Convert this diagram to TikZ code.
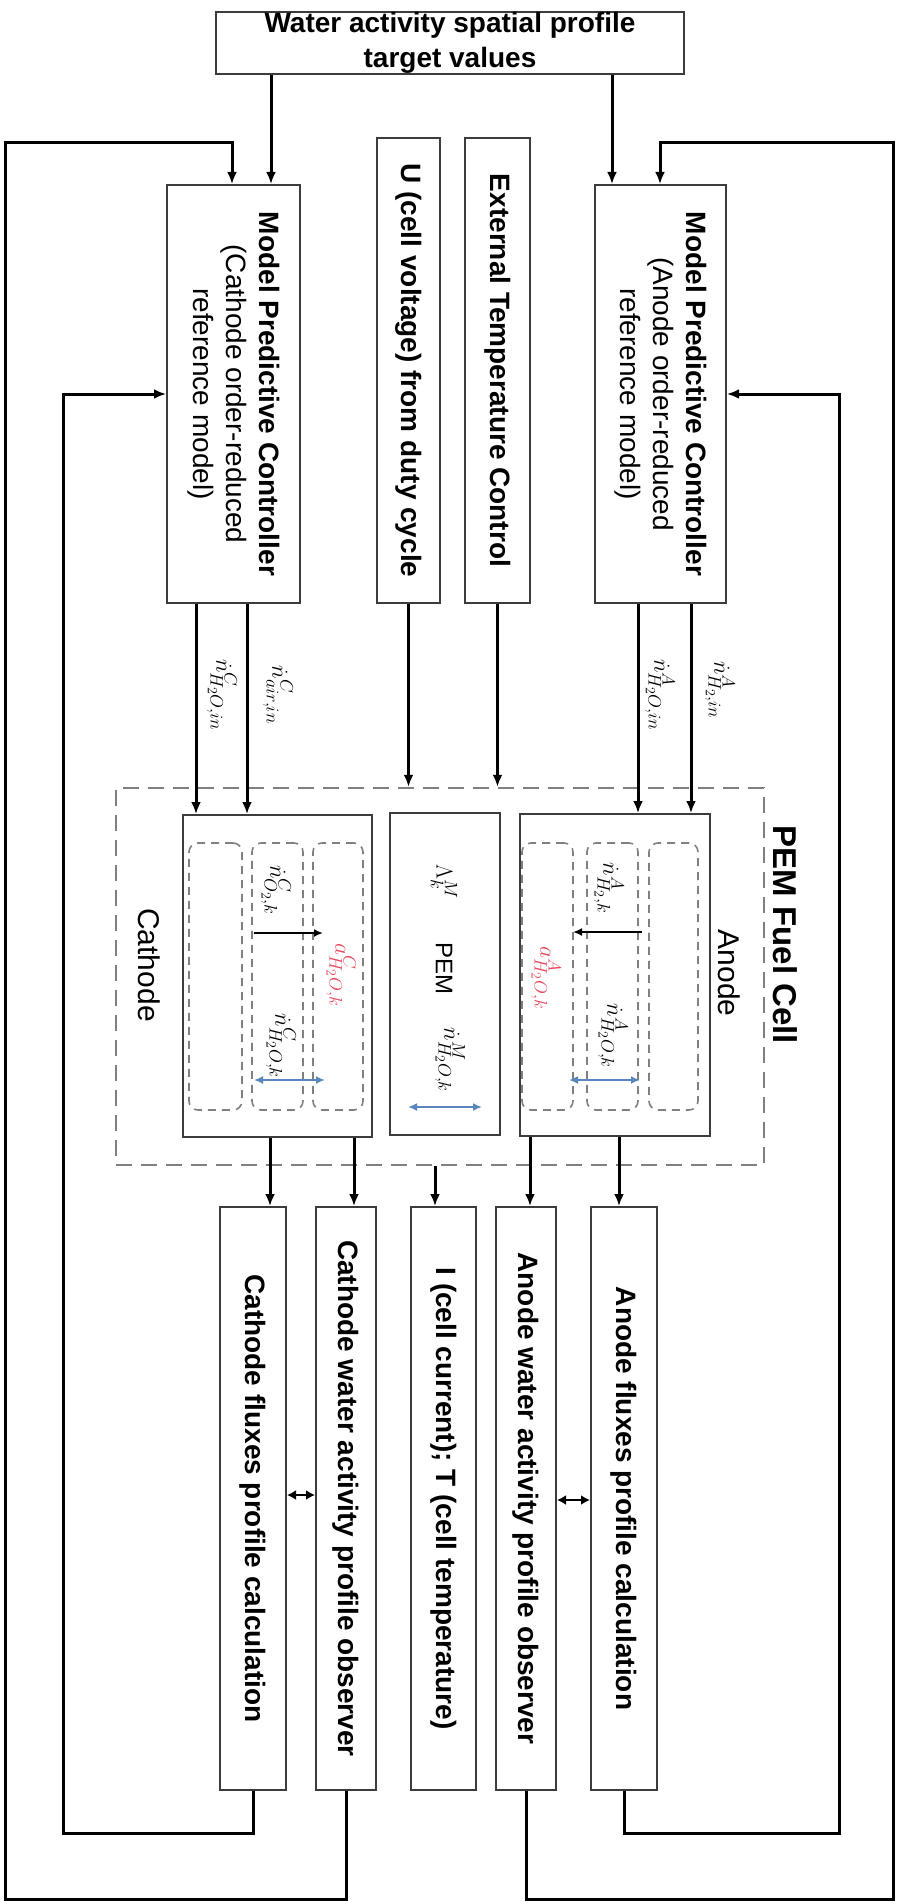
\RequirePackage{fix-cm}
\documentclass[tikz,border=0pt]{standalone}
\usepackage{fontspec}
\setmainfont{Liberation Sans}
\usetikzlibrary{arrows.meta}
\DeclareMathSizes{23}{23}{18}{14}
\definecolor{boxgray}{HTML}{3C3C3C}
\definecolor{dashgray}{HTML}{808080}
\definecolor{flowblue}{HTML}{5A86C0}
\definecolor{actred}{HTML}{E5485E}
\begin{document}
\begin{tikzpicture}[x=1pt,y=-1pt,
 blk/.style={draw=boxgray,line width=2pt,fill=white,inner sep=0pt},
 vt/.style={rotate=-90,align=center,inner sep=0pt,font=\fontsize{28}{33}\selectfont},
 vtb/.style={rotate=-90,align=center,inner sep=0pt,font=\fontsize{28}{33}\selectfont\bfseries},
 conn/.style={line width=3pt,-{Latex[length=12pt,width=10pt]}},
 fcbox/.style={draw=dashgray,line width=2.5pt,dash pattern=on 16pt off 9pt,inner sep=0pt},
 comp/.style={draw=dashgray,line width=1.6pt,dash pattern=on 8pt off 6pt,rounded corners=9pt,inner sep=0pt},
 lbl/.style={rotate=-90,inner sep=0pt,font=\fontsize{23}{27}\selectfont},
 bflow/.style={draw=flowblue,line width=2.2pt,{Latex[length=9pt,width=8pt]}-{Latex[length=9pt,width=8pt]}},
 kflow/.style={line width=2.2pt,-{Latex[length=9pt,width=8pt]}},
 bid/.style={line width=2.5pt,{Latex[length=9pt,width=10pt]}-{Latex[length=9pt,width=10pt]}}
]
\useasboundingbox (0,0) rectangle (899,1902);
\fill[white] (0,0) rectangle (899,1902);

% coordinates
\coordinate (xTC) at (271,0); \coordinate (xTA) at (612,0);
\coordinate (xFC) at (232,0); \coordinate (xFA) at (660,0);
\coordinate (xOL) at (5,0);   \coordinate (xOR) at (893,0);
\coordinate (xIL) at (63,0);  \coordinate (xIR) at (839,0);
\coordinate (yOT) at (0,143); \coordinate (yOB) at (0,1899);
\coordinate (yIB) at (0,1833);
\coordinate (xc1) at (196,0); \coordinate (xc2) at (247,0);
\coordinate (xa1) at (638,0); \coordinate (xa2) at (691,0);
\coordinate (xo1) at (270,0); \coordinate (xo2) at (354,0);
\coordinate (xo3) at (435,0); \coordinate (xo4) at (530,0);
\coordinate (xo5) at (619,0);
\coordinate (yb1) at (0,1495); \coordinate (yb2) at (0,1500);

% top box
\node[blk,align=center,font=\fontsize{28}{35}\selectfont\bfseries,minimum width=468pt,minimum height=62pt] (topbox) at (450,43) {Water activity spatial profile\\target values};

% controllers
\node[blk,minimum width=133pt,minimum height=418pt] (mpcC) at (233.5,394) {};
\node[vt] (mpcCt) at (mpcC.center) {\textbf{Model Predictive Controller}\\(Cathode order-reduced\\reference model)};
\node[blk,minimum width=63pt,minimum height=465pt] (ubox) at (408.5,370.5) {};
\node[vtb] (uboxt) at (ubox.center) {U (cell voltage) from duty cycle};
\node[blk,minimum width=65pt,minimum height=465pt] (ext) at (497.5,370.5) {};
\node[vtb] (extt) at (ext.center) {External Temperature Control};
\node[blk,minimum width=131pt,minimum height=418pt] (mpcA) at (660.5,394) {};
\node[vt] (mpcAt) at (mpcA.center) {\textbf{Model Predictive Controller}\\(Anode order-reduced\\reference model)};

% fuel cell
\node[fcbox,minimum width=648pt,minimum height=377pt] (fc) at (440,976.5) {};
\node[rotate=-90,inner sep=0pt,font=\fontsize{33}{37}\selectfont\bfseries] (fct) at (785,935) {PEM Fuel Cell};
\node[blk,minimum width=189pt,minimum height=322pt] (cath) at (277.5,976) {};
\node[blk,minimum width=110pt,minimum height=322pt] (pem) at (445,974) {};
\node[blk,minimum width=190pt,minimum height=322pt] (anode) at (615,975) {};
\node[rotate=-90,inner sep=0pt,font=\fontsize{30}{34}\selectfont] (catht) at (149,965) {Cathode};
\node[rotate=-90,inner sep=0pt,font=\fontsize{30}{34}\selectfont] (anodet) at (729,973) {Anode};

\node[comp,minimum width=53pt,minimum height=267pt] (c1) at (215.5,976.5) {};
\node[comp,minimum width=51pt,minimum height=267pt] (c2) at (277.5,976.5) {};
\node[comp,minimum width=50pt,minimum height=267pt] (c3) at (338,976.5) {};
\node[comp,minimum width=51pt,minimum height=267pt] (a1) at (547.5,976.5) {};
\node[comp,minimum width=51pt,minimum height=267pt] (a2) at (612.5,976.5) {};
\node[comp,minimum width=49pt,minimum height=267pt] (a3) at (673.5,976.5) {};

% inner flows
\coordinate (o2s) at (254,933); \coordinate (o2e) at (323,933);
\coordinate (h2s) at (642,932); \coordinate (h2e) at (573,932);
\coordinate (cbs) at (254,1080); \coordinate (cbe) at (325,1080);
\coordinate (pbs) at (408,1107); \coordinate (pbe) at (482,1107);
\coordinate (abs) at (569,1080); \coordinate (abe) at (640,1080);
\draw[kflow] (o2s) -- (o2e);
\draw[kflow] (h2s) -- (h2e);
\draw[bflow] (cbs) -- (cbe);
\draw[bflow] (pbs) -- (pbe);
\draw[bflow] (abs) -- (abe);

\node[lbl] (lo2) at (276,890) {$\dot n^{C}_{O_2,k}$};
\node[lbl,text=actred] (lac) at (341,975) {$a^{C}_{H_2O,k}$};
\node[lbl] (lhc) at (281,1046) {$\dot n^{C}_{H_2O,k}$};
\node[lbl] (llam) at (444,882) {$\Lambda^{M}_{k}$};
\node[rotate=-90,inner sep=0pt,font=\fontsize{24}{28}\selectfont] (lpem) at (444,968) {PEM};
\node[lbl] (lhm) at (450,1060) {$\dot n^{M}_{H_2O,k}$};
\node[lbl] (lh2) at (609,888) {$\dot n^{A}_{H_2,k}$};
\node[lbl,text=actred] (laa) at (546,978) {$a^{A}_{H_2O,k}$};
\node[lbl] (lha) at (613,1036) {$\dot n^{A}_{H_2O,k}$};

% bottom boxes
\node[blk,minimum width=66pt,minimum height=583pt] (cf) at (253,1498.5) {};
\node[vtb] (cft) at (cf.center) {Cathode fluxes profile calculation};
\node[blk,minimum width=60pt,minimum height=583pt] (cw) at (346,1498.5) {};
\node[vtb] (cwt) at (cw.center) {Cathode water activity profile observer};
\node[blk,minimum width=65pt,minimum height=583pt] (it) at (443.5,1498.5) {};
\node[vtb] (itt) at (it.center) {I (cell current); T (cell temperature)};
\node[blk,minimum width=60pt,minimum height=583pt] (aw) at (526,1498.5) {};
\node[vtb] (awt) at (aw.center) {Anode water activity profile observer};
\node[blk,minimum width=66pt,minimum height=583pt] (af) at (624,1498.5) {};
\node[vtb] (aft) at (af.center) {Anode fluxes profile calculation};

% connectors: top box to controllers
\draw[conn] (topbox.south -| xTC) -- (mpcC.north -| xTC);
\draw[conn] (topbox.south -| xTA) -- (mpcA.north -| xTA);

% controllers to fuel cell
\draw[conn] (mpcC.south -| xc1) -- (cath.north -| xc1);
\draw[conn] (mpcC.south -| xc2) -- (cath.north -| xc2);
\draw[conn] (ubox.south) -- (ubox.south |- fc.north);
\draw[conn] (ext.south) -- (ext.south |- fc.north);
\draw[conn] (mpcA.south -| xa1) -- (anode.north -| xa1);
\draw[conn] (mpcA.south -| xa2) -- (anode.north -| xa2);
\node[lbl] (lin1) at (222,695) {$\dot n^{C}_{H_2O,in}$};
\node[lbl] (lin2) at (278,695) {$\dot n^{C}_{air,in}$};
\node[lbl] (lin3) at (660,695) {$\dot n^{A}_{H_2O,in}$};
\node[lbl] (lin4) at (720,690) {$\dot n^{A}_{H_2,in}$};

% fuel cell to bottom boxes
\draw[conn] (cath.south -| xo1) -- (cf.north -| xo1);
\draw[conn] (cath.south -| xo2) -- (cw.north -| xo2);
\draw[conn] (fc.south -| xo3) -- (it.north -| xo3);
\draw[conn] (anode.south -| xo4) -- (aw.north -| xo4);
\draw[conn] (anode.south -| xo5) -- (af.north -| xo5);

% bidirectional between calculation and observer
\draw[bid] (cf.east |- yb1) -- (cw.west |- yb1);
\draw[bid] (aw.east |- yb2) -- (af.west |- yb2);

% feedback loops
\draw[conn] (cw.south) -- (cw.south |- yOB) -- (xOL |- yOB) -- (xOL |- yOT) -- (xFC |- yOT) -- (mpcC.north -| xFC);
\draw[conn] (aw.south) -- (aw.south |- yOB) -- (xOR |- yOB) -- (xOR |- yOT) -- (xFA |- yOT) -- (mpcA.north -| xFA);
\draw[conn] (cf.south) -- (cf.south |- yIB) -- (xIL |- yIB) -- (xIL |- mpcC.west) -- (mpcC.west);
\draw[conn] (af.south) -- (af.south |- yIB) -- (xIR |- yIB) -- (xIR |- mpcA.east) -- (mpcA.east);
\end{tikzpicture}
\end{document}
